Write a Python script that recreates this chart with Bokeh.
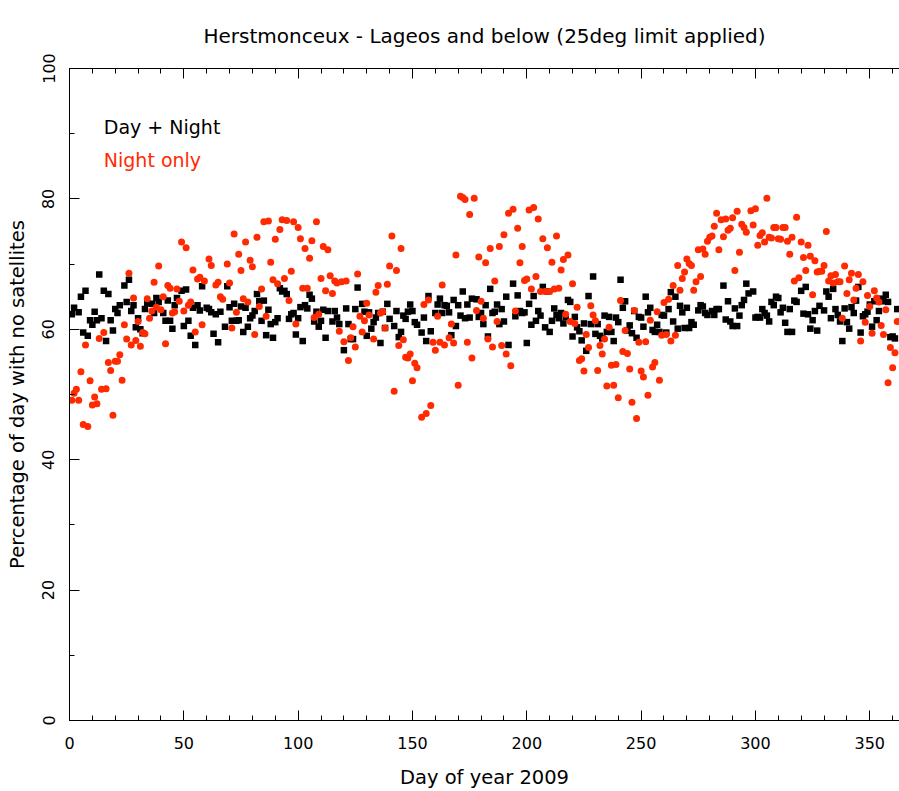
from bokeh.plotting import figure
from bokeh.models import LinearAxis, Label, FixedTicker, Range1d, ColumnDataSource
from bokeh.embed import file_html
from bokeh.resources import INLINE

TITLE = "Herstmonceux - Lageos and below (25deg limit applied)"
X_LABEL = "Day of year 2009"
Y_LABEL = "Percentage of day with no satellites"
X_TICKS = [0, 50, 100, 150, 200, 250, 300, 350]
Y_TICKS = [0, 20, 40, 60, 80, 100]
LEGEND_LABELS = ["Day + Night", "Night only"]

all_days = [
    1, 2, 4, 5, 6, 7, 8, 9, 10, 11,
    12, 13, 14, 15, 16, 17, 18, 19, 20, 21,
    22, 24, 25, 26, 27, 28, 29, 30, 31, 32,
    33, 34, 36, 37, 38, 39, 41, 42, 43, 44,
    45, 46, 47, 49, 50, 51, 52, 53, 54, 55,
    56, 57, 58, 60, 61, 62, 63, 64, 65, 66,
    68, 69, 70, 71, 72, 73, 74, 75, 76, 77,
    78, 79, 80, 81, 82, 83, 84, 85, 86, 87,
    88, 89, 90, 91, 92, 93, 94, 95, 96, 97,
    98, 99, 100, 101, 102, 103, 104, 105, 106, 107,
    108, 109, 110, 111, 112, 113, 115, 116, 117, 118,
    120, 121, 122, 123, 124, 125, 126, 128, 129, 130,
    131, 132, 133, 134, 135, 136, 137, 138, 139, 140,
    142, 143, 144, 145, 146, 147, 148, 149, 150, 151,
    152, 154, 155, 156, 157, 158, 160, 161, 162, 163,
    164, 165, 166, 167, 168, 169, 170, 171, 172, 173,
    174, 175, 176, 178, 179, 180, 181, 182, 183, 184,
    185, 186, 187, 188, 189, 190, 191, 192, 194, 195,
    196, 197, 198, 199, 200, 201, 202, 203, 204, 205,
    206, 207, 208, 209, 210, 211, 212, 213, 214, 215,
    216, 217, 218, 219, 220, 221, 222, 223, 224, 225,
    226, 227, 228, 229, 230, 231, 232, 233, 234, 235,
    236, 237, 238, 239, 240, 241, 242, 243, 244, 245,
    246, 247, 248, 249, 250, 251, 252, 253, 254, 255,
    256, 257, 258, 259, 260, 261, 262, 263, 264, 265,
    266, 267, 268, 269, 270, 271, 272, 273, 275, 276,
    277, 278, 279, 281, 282, 283, 284, 286, 287, 288,
    289, 290, 291, 292, 293, 294, 295, 296, 297, 299,
    300, 301, 302, 303, 304, 305, 306, 307, 308, 309,
    310, 311, 312, 313, 314, 315, 316, 317, 318, 320,
    321, 322, 323, 324, 325, 326, 327, 328, 330, 331,
    332, 333, 334, 335, 336, 337, 338, 339, 340, 341,
    342, 343, 344, 345, 346, 347, 348, 349, 350, 351,
    352, 353, 354, 355, 356, 357, 358, 359, 360, 361,
    362,
]
all_pct = [
    62.3, 63.3, 62.6, 65.0, 59.5, 65.9, 59.0, 61.4, 60.7, 62.7,
    61.4, 68.4, 61.7, 65.9, 58.2, 65.4, 61.4, 59.8, 63.1, 62.5,
    63.7, 66.7, 64.2, 67.6, 62.8, 63.7, 60.3, 61.7, 60.0, 59.4,
    63.1, 64.0, 63.9, 62.5, 64.8, 64.2, 62.5, 61.3, 64.4, 61.3,
    60.1, 63.7, 64.8, 65.9, 60.5, 66.1, 61.3, 59.0, 63.3, 57.6,
    63.7, 62.9, 66.6, 63.3, 63.1, 62.6, 59.3, 62.3, 58.0, 62.7,
    60.4, 66.6, 63.4, 61.3, 63.9, 61.3, 61.4, 63.5, 59.6, 63.3,
    60.4, 61.7, 62.1, 62.8, 65.4, 64.3, 61.3, 64.4, 59.1, 63.0,
    60.8, 58.7, 61.1, 61.7, 66.3, 65.8, 65.9, 65.4, 61.6, 62.3,
    62.5, 59.2, 61.7, 63.4, 58.2, 63.7, 63.2, 65.3, 64.7, 61.2,
    62.7, 60.4, 61.3, 63.0, 58.7, 62.8, 61.2, 62.8, 61.8, 60.8,
    56.8, 63.2, 60.8, 58.5, 58.5, 63.1, 66.4, 63.9, 62.7, 59.0,
    62.6, 60.1, 61.1, 61.8, 62.5, 57.9, 62.7, 60.2, 63.9, 61.6,
    60.5, 62.8, 58.8, 59.6, 62.1, 61.6, 62.7, 63.8, 62.8, 61.1,
    60.7, 59.5, 61.8, 58.2, 65.1, 59.7, 62.5, 63.8, 64.7, 62.5,
    63.7, 63.6, 62.6, 59.1, 64.5, 60.5, 63.7, 62.1, 65.8, 61.7,
    63.8, 61.8, 64.7, 64.6, 61.9, 62.5, 60.8, 63.7, 58.9, 66.2,
    62.5, 62.7, 63.8, 60.8, 63.1, 61.2, 65.0, 57.6, 67.0, 62.0,
    65.2, 62.8, 62.5, 62.6, 57.9, 63.9, 60.7, 65.1, 61.3, 62.8,
    62.1, 66.5, 60.3, 65.8, 59.6, 61.3, 63.2, 62.2, 61.7, 62.5,
    60.9, 61.9, 64.5, 64.2, 58.9, 61.9, 60.3, 59.7, 58.3, 60.9,
    56.7, 65.1, 60.8, 68.1, 59.3, 60.8, 59.0, 58.6, 62.1, 59.6,
    61.9, 59.6, 58.2, 61.8, 61.1, 67.6, 63.3, 64.3, 59.8, 60.6,
    59.4, 62.8, 58.7, 61.9, 61.8, 60.4, 65.0, 62.6, 63.3, 59.9,
    59.6, 60.7, 59.6, 62.2, 62.1, 59.5, 63.1, 65.7, 61.2, 65.0,
    60.1, 63.6, 62.6, 60.2, 63.3, 60.2, 61.1, 60.7, 62.9, 63.7,
    63.5, 62.5, 62.2, 62.8, 62.2, 63.1, 63.1, 66.7, 61.5, 64.3,
    61.2, 60.5, 63.2, 60.5, 62.1, 63.7, 64.5, 67.0, 65.5, 65.8,
    61.8, 61.9, 61.8, 63.1, 62.5, 62.1, 61.2, 64.2, 63.7, 65.0,
    64.8, 62.6, 63.3, 61.0, 59.6, 63.1, 59.6, 64.4, 64.2, 65.9,
    62.4, 66.5, 62.3, 60.1, 61.4, 62.8, 59.8, 63.6, 62.9, 65.8,
    65.0, 61.7, 66.2, 63.1, 62.2, 61.2, 58.2, 63.2, 61.1, 60.1,
    63.4, 62.5, 64.4, 66.5, 59.5, 62.0, 62.3, 62.7, 63.8, 60.4,
    64.3, 61.4, 62.8, 64.7, 64.3, 65.3, 64.2, 58.8, 58.9, 58.6,
    63.1,
]

night_days = [
    1, 2, 3, 4, 5, 6, 7, 8, 9, 10,
    11, 12, 13, 14, 15, 16, 17, 18, 19, 20,
    21, 22, 23, 24, 25, 26, 27, 28, 29, 30,
    31, 32, 33, 34, 35, 36, 37, 38, 39, 40,
    41, 42, 43, 44, 45, 46, 47, 48, 49, 50,
    51, 52, 53, 54, 55, 56, 57, 58, 59, 61,
    62, 64, 65, 66, 67, 69, 70, 71, 72, 73,
    74, 75, 76, 77, 78, 79, 80, 81, 82, 83,
    84, 85, 86, 87, 88, 89, 90, 91, 92, 93,
    94, 95, 96, 97, 98, 99, 100, 101, 102, 103,
    104, 105, 106, 107, 108, 109, 110, 111, 112, 113,
    114, 115, 116, 117, 118, 119, 120, 121, 122, 123,
    124, 125, 126, 127, 128, 129, 130, 131, 133, 134,
    135, 136, 137, 138, 139, 140, 141, 142, 143, 144,
    145, 146, 147, 148, 149, 150, 151, 152, 154, 155,
    156, 157, 158, 159, 160, 161, 162, 163, 164, 166,
    167, 168, 169, 170, 171, 172, 173, 174, 175, 176,
    177, 178, 179, 180, 181, 182, 183, 184, 185, 186,
    187, 188, 189, 190, 191, 192, 193, 194, 195, 196,
    197, 198, 199, 200, 201, 202, 203, 204, 205, 206,
    207, 208, 209, 210, 211, 212, 213, 214, 215, 216,
    217, 218, 219, 220, 221, 222, 223, 224, 225, 226,
    227, 228, 229, 230, 231, 232, 233, 234, 235, 236,
    237, 238, 239, 240, 241, 242, 243, 244, 245, 246,
    247, 248, 249, 250, 251, 252, 253, 254, 255, 256,
    257, 258, 259, 260, 261, 262, 263, 264, 265, 266,
    267, 268, 269, 270, 271, 272, 273, 274, 275, 276,
    277, 278, 279, 280, 281, 282, 283, 284, 285, 286,
    287, 288, 289, 290, 291, 292, 293, 294, 295, 296,
    298, 299, 300, 301, 302, 303, 304, 305, 306, 307,
    308, 309, 310, 311, 312, 313, 314, 315, 316, 317,
    318, 319, 320, 321, 322, 323, 324, 325, 326, 327,
    328, 329, 330, 331, 332, 333, 334, 335, 336, 337,
    338, 339, 340, 341, 342, 343, 344, 345, 346, 347,
    348, 349, 350, 351, 352, 353, 354, 355, 356, 357,
    358, 359, 360, 361, 362,
]
night_pct = [
    49.1, 50.2, 50.8, 49.1, 53.5, 45.4, 57.6, 45.1, 52.1, 48.4,
    49.6, 48.6, 58.6, 50.8, 59.5, 50.9, 54.9, 53.7, 46.8, 55.1,
    55.1, 56.1, 52.2, 60.7, 58.5, 68.6, 57.6, 64.8, 58.3, 61.2,
    57.4, 59.5, 59.3, 64.7, 61.7, 62.8, 67.2, 63.4, 69.7, 63.0,
    65.0, 57.8, 66.7, 66.3, 62.5, 62.7, 66.2, 64.3, 73.4, 62.8,
    72.5, 63.7, 64.2, 69.1, 59.6, 67.7, 68.0, 60.7, 67.4, 70.8,
    69.8, 66.8, 67.2, 65.0, 64.6, 70.0, 67.1, 60.2, 74.6, 62.6,
    71.5, 69.0, 64.7, 73.4, 64.2, 70.6, 69.6, 59.2, 74.1, 63.5,
    66.2, 76.5, 62.0, 76.6, 70.3, 67.6, 73.8, 67.0, 75.3, 76.8,
    67.8, 76.7, 64.4, 68.9, 76.5, 60.8, 75.6, 73.9, 66.3, 72.4,
    66.3, 70.9, 73.6, 61.8, 76.5, 62.3, 67.8, 72.7, 65.9, 72.2,
    68.2, 65.5, 67.4, 67.1, 59.7, 67.3, 58.1, 67.4, 55.2, 58.7,
    60.4, 57.3, 68.5, 62.0, 59.6, 61.3, 64.0, 62.2, 58.5, 65.7,
    66.7, 62.5, 62.7, 60.2, 66.9, 69.7, 74.3, 50.5, 69.0, 57.5,
    72.4, 58.4, 55.7, 55.6, 56.2, 52.1, 54.8, 54.1, 46.5, 63.8,
    47.1, 64.5, 48.3, 58.0, 56.8, 62.0, 58.0, 66.8, 57.6, 58.7,
    60.8, 57.9, 71.4, 51.4, 80.4, 80.2, 79.9, 58.0, 77.6, 55.6,
    80.1, 62.9, 71.1, 64.3, 61.7, 70.2, 58.5, 72.4, 57.3, 67.4,
    61.2, 72.7, 57.5, 74.5, 56.2, 77.8, 54.4, 78.4, 62.8, 75.5,
    70.2, 72.7, 67.5, 67.7, 78.3, 66.2, 78.7, 68.1, 76.9, 65.8,
    73.9, 65.8, 72.5, 65.8, 70.3, 66.2, 74.3, 66.3, 69.1, 70.7,
    62.3, 71.4, 61.2, 67.0, 60.9, 63.4, 55.2, 55.5, 53.6, 59.2,
    57.2, 63.6, 62.2, 61.3, 53.7, 57.5, 56.2, 58.5, 51.3, 60.3,
    54.5, 51.4, 54.6, 49.5, 64.4, 56.6, 59.8, 56.3, 53.9, 48.8,
    62.9, 46.3, 58.0, 53.6, 52.7, 58.1, 49.9, 61.4, 54.2, 54.9,
    62.7, 52.2, 59.1, 64.1, 59.2, 64.6, 58.2, 66.7, 59.1, 69.8,
    66.0, 67.8, 68.8, 70.8, 70.1, 69.8, 66.0, 67.3, 72.2, 68.1,
    72.3, 71.5, 73.5, 74.1, 74.3, 75.8, 77.8, 72.2, 76.8, 74.2,
    76.9, 75.2, 75.5, 77.1, 69.0, 78.1, 71.8, 76.1, 75.6, 74.9,
    78.2, 76.0, 78.5, 72.9, 74.4, 74.8, 73.4, 80.1, 74.1, 74.0,
    75.6, 75.6, 73.9, 73.8, 75.6, 75.6, 73.5, 71.5, 74.1, 67.4,
    77.2, 67.9, 73.4, 71.0, 69.0, 72.9, 71.2, 65.3, 70.5, 68.8,
    68.9, 68.9, 69.8, 75.0, 67.4, 68.2, 67.1, 68.4, 67.3, 67.3,
    61.7, 69.7, 65.5, 67.6, 68.6, 64.5, 66.3, 68.4, 58.2, 67.3,
    61.1, 65.2, 63.5, 59.4, 65.9, 64.8, 64.2, 60.6, 59.2, 63.0,
    51.8, 57.2, 54.1, 56.4, 61.2,
]

FONT = "DejaVu Sans"
RED = "#ff2a00"

p = figure(width=899, height=791, x_range=Range1d(0, 363), y_range=Range1d(0, 100),
           output_backend="svg", toolbar_location=None, title=TITLE,
           min_border_left=69, min_border_right=0, min_border_top=68, min_border_bottom=71)
p.grid.visible = False
p.outline_line_color = None
p.background_fill_color = "white"
p.border_fill_color = "white"

p.title.text_font = FONT
p.title.text_font_size = "20px"
p.title.text_font_style = "normal"
p.title.align = "center"
p.title.text_color = "black"
p.title.standoff = 38
p.title.vertical_align = "top"

xt = FixedTicker(ticks=X_TICKS, minor_ticks=list(range(0, 364, 10)))
yt = FixedTicker(ticks=Y_TICKS, minor_ticks=list(range(0, 101, 10)))

for ax in p.xaxis:
    ax.ticker = xt
    ax.axis_label = X_LABEL
for ax in p.yaxis:
    ax.ticker = yt
    ax.axis_label = Y_LABEL
    ax.major_label_orientation = "vertical"

top = LinearAxis(ticker=xt, major_label_overrides={t: "" for t in X_TICKS},
                 major_label_standoff=0)
p.add_layout(top, "above")

for ax in list(p.xaxis) + list(p.yaxis):
    ax.major_tick_in = 10
    ax.major_tick_out = 0
    ax.minor_tick_in = 5
    ax.minor_tick_out = 0
    ax.axis_line_color = "black"
    ax.major_tick_line_color = "black"
    ax.minor_tick_line_color = "black"
    ax.major_label_text_font = FONT
    ax.major_label_text_color = "black"
    ax.major_label_text_font_size = "16px"
    ax.axis_label_text_font = FONT
    ax.axis_label_text_font_style = "normal"
    ax.axis_label_text_color = "black"
    ax.axis_label_text_font_size = "19.5px"

for ax in p.below:
    ax.major_label_standoff = 16
    ax.axis_label_standoff = 14
for ax in p.left:
    ax.major_label_standoff = 15
    ax.axis_label_standoff = 11

src_all = ColumnDataSource(dict(day=all_days, pct=all_pct))
src_night = ColumnDataSource(dict(day=night_days, pct=night_pct))

p.scatter("day", "pct", source=src_all, marker="square", size=6.5,
          fill_color="black", line_color=None)
p.scatter("day", "pct", source=src_night, marker="circle", size=7,
          fill_color=RED, line_color=None)

p.add_layout(Label(x=15, y=91, text=LEGEND_LABELS[0], text_color="black",
                   text_font=FONT, text_font_size="19px", text_baseline="middle"))
p.add_layout(Label(x=15, y=86, text=LEGEND_LABELS[1], text_color=RED,
                   text_font=FONT, text_font_size="19px", text_baseline="middle"))

open("out.html", "w").write(file_html(p, INLINE))
